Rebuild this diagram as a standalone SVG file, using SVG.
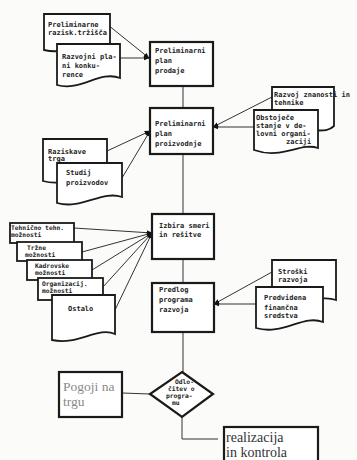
<svg xmlns="http://www.w3.org/2000/svg" width="357" height="460" viewBox="0 0 357 460">
<defs>
<style>
.bg{fill:#fbfbfa}
.box{fill:#fff;stroke:#1a1a1a;stroke-width:2.2}
.doc{fill:#fff;stroke:#1a1a1a;stroke-width:1.8}
.ln{fill:none;stroke:#333;stroke-width:1}
.t{font-family:"DejaVu Sans Mono","Liberation Mono",monospace;font-size:7px;font-weight:bold;fill:#222}
.ts{font-family:"DejaVu Sans Mono","Liberation Mono",monospace;font-size:6.3px;font-weight:bold;fill:#222}
.sf{font-family:"Liberation Serif",serif;font-size:14px;fill:#333}
.sg{font-family:"Liberation Serif",serif;font-size:13.5px;fill:#8a8a8a}
</style>
<marker id="ar" viewBox="0 0 10 10" refX="9" refY="5" markerWidth="6" markerHeight="6" orient="auto"><path d="M0,1 L10,5 L0,9 z" fill="#111"/></marker>
</defs>
<rect class="bg" x="0" y="0" width="357" height="460"/>
<g id="connectors">
<path class="ln" d="M183,87 V108 M183,154 V214 M183,259 V283 M183,332 V372"/>
<path class="ln" d="M108,25 L149,58" marker-end="url(#ar)"/>
<path class="ln" d="M120,58 L149,58" marker-end="url(#ar)"/>
<path class="ln" d="M107,151 L150,131" marker-end="url(#ar)"/>
<path class="ln" d="M122,178 L150,131" marker-end="url(#ar)"/>
<path class="ln" d="M272,97 L213,127" marker-end="url(#ar)"/>
<path class="ln" d="M254,127 L213,127" marker-end="url(#ar)"/>
<path class="ln" d="M74,228 L152,233" marker-end="url(#ar)"/>
<path class="ln" d="M82,252 L152,233" marker-end="url(#ar)"/>
<path class="ln" d="M92,270 L152,233" marker-end="url(#ar)"/>
<path class="ln" d="M103,287 L152,233" marker-end="url(#ar)"/>
<path class="ln" d="M115,310 L152,233" marker-end="url(#ar)"/>
<path class="ln" d="M272,272 L214,304" marker-end="url(#ar)"/>
<path class="ln" d="M256,304 L214,304" marker-end="url(#ar)"/>
<path class="ln" d="M122,393 L150,394"/>
<path class="ln" d="M182,417 V439 H218"/>
</g>
<g id="doc-prelim-raziskave">
<path class="doc" d="M44,14 H110 V46 C90,38 70,56 44,50 Z"/>
<text class="t" x="48" y="27">Preliminarne</text>
<text class="t" x="48" y="35">razisk.tržišča</text>
</g>
<g id="doc-razvojni-plani">
<path class="doc" d="M57,44 H120 V78 C100,70 80,92 57,85 Z"/>
<text class="t" x="62" y="59">Razvojni pla-</text>
<text class="t" x="62" y="68">ni konku-</text>
<text class="t" x="62" y="77">rence</text>
</g>
<g id="box-plan-prodaje">
<rect class="box" x="150" y="42" width="63" height="44"/>
<text class="t" x="155" y="53">Preliminarni</text>
<text class="t" x="155" y="63">plan</text>
<text class="t" x="155" y="73">prodaje</text>
</g>
<g id="doc-razvoj-znanosti">
<path class="doc" d="M272,87 H334 V126 C326,134 314,128 306,132 C295,126 282,134 272,130 Z"/>
<text class="t" x="274" y="97">Razvoj znanosti in</text>
<text class="t" x="274" y="105">tehnike</text>
</g>
<g id="doc-obstojece">
<path class="doc" d="M254,110 H318 V148 C300,142 282,160 254,150 Z"/>
<text class="t" x="256" y="120">Obstoječe</text>
<text class="t" x="256" y="128">stanje v de-</text>
<text class="t" x="256" y="136">lovni organi-</text>
<text class="t" x="286" y="144">zaciji</text>
</g>
<g id="box-plan-proizvodnje">
<rect class="box" x="150" y="108" width="63" height="46"/>
<text class="t" x="155" y="126">Preliminarni</text>
<text class="t" x="155" y="136">plan</text>
<text class="t" x="155" y="146">proizvodnje</text>
</g>
<g id="doc-raziskave-trga">
<path class="doc" d="M43,139 H107 V176 C88,170 68,188 43,181 Z"/>
<text class="t" x="48" y="154">Raziskave</text>
<text class="t" x="48" y="161">trga</text>
</g>
<g id="doc-studij">
<path class="doc" d="M57,163 H122 V197 C102,190 82,210 57,203 Z"/>
<text class="t" x="66" y="175">Studij</text>
<text class="t" x="66" y="185">proizvodov</text>
</g>
<g id="box-izbira">
<rect class="box" x="152" y="214" width="62" height="45"/>
<text class="t" x="159" y="228">Izbira smeri</text>
<text class="t" x="159" y="237">in rešitve</text>
</g>
<g id="doc-tehnicne">
<rect class="doc" x="10" y="223" width="64" height="20"/>
<text class="ts" x="11" y="230">Tehnično tehn.</text>
<text class="ts" x="11" y="237">možnosti</text>
</g>
<g id="doc-trzne">
<rect class="doc" x="17" y="242" width="65" height="19"/>
<text class="ts" x="27" y="250">Tržne</text>
<text class="ts" x="25" y="257">možnosti</text>
</g>
<g id="doc-kadrovske">
<rect class="doc" x="27" y="260" width="65" height="20"/>
<text class="ts" x="35" y="268">Kadrovske</text>
<text class="ts" x="35" y="275">možnosti</text>
</g>
<g id="doc-organizacijske">
<rect class="doc" x="38" y="278" width="65" height="22"/>
<text class="ts" x="42" y="286">Organizacij.</text>
<text class="ts" x="42" y="293">možnosti</text>
</g>
<g id="doc-ostalo">
<path class="doc" d="M52,295 H115 V334 C98,326 78,346 52,340 Z"/>
<text class="t" x="68" y="311">Ostalo</text>
</g>
<g id="box-predlog">
<rect class="box" x="152" y="283" width="62" height="49"/>
<text class="t" x="159" y="292">Predlog</text>
<text class="t" x="159" y="302">programa</text>
<text class="t" x="159" y="312">razvoja</text>
</g>
<g id="doc-stroski">
<path class="doc" d="M272,260 H336 V300 C320,294 302,306 272,302 Z"/>
<text class="t" x="278" y="274">Stroški</text>
<text class="t" x="278" y="282">razvoja</text>
</g>
<g id="doc-predvidena">
<path class="doc" d="M256,287 H323 V322 C303,314 283,336 256,328 Z"/>
<text class="t" x="264" y="300">Predvidena</text>
<text class="t" x="264" y="310">finančna</text>
<text class="t" x="264" y="318">sredstva</text>
</g>
<g id="decision">
<path class="box" d="M182,372 L213,394 L182,417 L150,394 Z"/>
<text class="ts" x="175" y="384">Odlo-</text>
<text class="ts" x="168" y="391">čitev o</text>
<text class="ts" x="166" y="398">progra-</text>
<text class="ts" x="172" y="405">mu</text>
</g>
<g id="box-pogoji">
<rect class="box" x="59" y="372" width="63" height="45"/>
<text class="sg" x="63" y="391">Pogoji na</text>
<text class="sg" x="63" y="406">trgu</text>
</g>
<g id="box-realizacija">
<rect class="box" x="224" y="427" width="94" height="40"/>
<text class="sf" x="226" y="442">realizacija</text>
<text class="sf" x="226" y="457">in kontrola</text>
</g>
</svg>
